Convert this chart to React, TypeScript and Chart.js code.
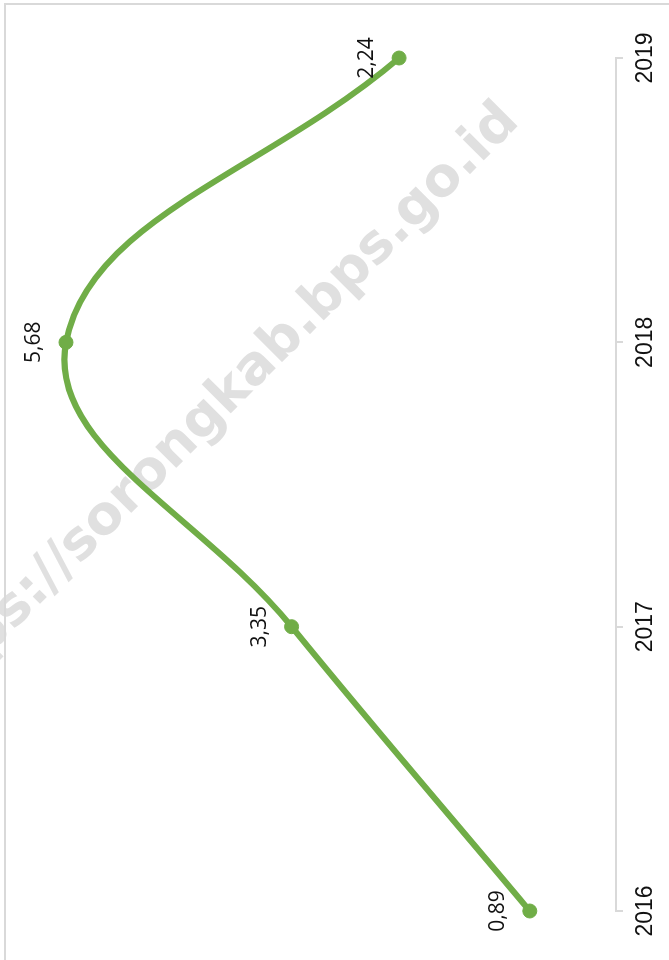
import React, { useEffect, useRef } from 'react';
import { Chart, registerables } from 'chart.js';

Chart.register(...registerables);

// ---- data ----
const years: string[] = ['2016', '2017', '2018', '2019'];
const values: number[] = [0.89, 3.35, 5.68, 2.24];
const valueMin = 0;
const valueMax = 6;
const watermarkText = 'https://sorongkab.bps.go.id';

const CANVAS_W = 960; // chart is drawn unrotated, then turned -90deg
const CANVAS_H = 669;
const GREEN = '#70AD47';

const fmt = (v: number) => v.toFixed(2).replace('.', ',');

export default function App() {
  const ref = useRef<HTMLCanvasElement | null>(null);

  useEffect(() => {
    const canvas = ref.current;
    if (!canvas) return;

    const watermarkPlugin = {
      id: 'watermark',
      beforeDatasetsDraw(chart: any) {
        const ctx = chart.ctx as CanvasRenderingContext2D;
        ctx.save();
        const size = 54;
        ctx.font = `bold ${size}px "DejaVu Sans"`;
        ctx.fillStyle = '#e0e0e0';
        ctx.translate(370, 33);
        ctx.rotate(Math.PI / 4);
        const pre = ctx.measureText('https').width + ctx.measureText(':').width / 2;
        ctx.textAlign = 'left';
        ctx.textBaseline = 'alphabetic';
        ctx.fillText(watermarkText, -pre, (size * 0.547) / 2);
        ctx.restore();
      },
    };

    const labelPlugin = {
      id: 'pointLabels',
      afterDatasetsDraw(chart: any) {
        const ctx = chart.ctx as CanvasRenderingContext2D;
        const meta = chart.getDatasetMeta(0);
        ctx.save();
        ctx.font = '21px "Open Sans"';
        ctx.fillStyle = '#111111';
        ctx.textAlign = 'center';
        ctx.textBaseline = 'middle';
        meta.data.forEach((pt: any, i: number) => {
          ctx.fillText(fmt(values[i]), pt.x, pt.y - 32);
        });
        ctx.restore();
      },
    };

    const chart = new Chart(canvas, {
      type: 'line',
      data: {
        labels: years,
        datasets: [
          {
            data: values,
            borderColor: GREEN,
            backgroundColor: GREEN,
            borderWidth: 6,
            tension: 0.4,
            pointRadius: 7,
            pointBorderWidth: 1,
            pointBackgroundColor: GREEN,
            pointBorderColor: GREEN,
            fill: false,
            clip: false as any,
          },
        ],
      },
      options: {
        animation: false,
        responsive: false,
        maintainAspectRatio: false,
        layout: { padding: { left: 49, right: 58, top: 35, bottom: 0 } },
        plugins: {
          legend: { display: false },
          tooltip: { enabled: false },
          title: { display: false },
        },
        scales: {
          x: {
            type: 'category',
            offset: false,
            grid: {
              display: true,
              drawOnChartArea: false,
              drawTicks: true,
              tickLength: 7,
              color: '#d9d9d9',
              lineWidth: 2,
            },
            border: { display: true, color: '#d9d9d9', width: 2 },
            ticks: {
              color: '#111111',
              font: { family: 'Liberation Sans', size: 23 },
              padding: 9,
              maxRotation: 0,
              minRotation: 0,
              autoSkip: false,
            },
            afterFit: (scale: any) => {
              scale.height = 53;
            },
          },
          y: {
            display: false,
            min: valueMin,
            max: valueMax,
          },
        },
      },
      plugins: [watermarkPlugin, labelPlugin],
    } as any);

    return () => chart.destroy();
  }, []);

  return (
    <div
      style={{
        position: 'absolute',
        left: 0,
        top: 0,
        width: CANVAS_H,
        height: CANVAS_W,
        overflow: 'hidden',
        background: '#ffffff',
      }}
    >
      <div
        style={{
          position: 'absolute',
          left: 0,
          top: 0,
          width: CANVAS_W,
          height: CANVAS_H,
          transformOrigin: '0 0',
          transform: `translate(0px, ${CANVAS_W}px) rotate(-90deg)`,
        }}
      >
        <canvas
          ref={ref}
          width={CANVAS_W}
          height={CANVAS_H}
          style={{ display: 'block', width: CANVAS_W, height: CANVAS_H }}
        />
      </div>
      <div
        style={{
          position: 'absolute',
          left: 4,
          top: 3,
          width: 800,
          height: 1100,
          borderLeft: '2px solid #d9d9d9',
          borderTop: '2px solid #d9d9d9',
          pointerEvents: 'none',
        }}
      />
    </div>
  );
}
